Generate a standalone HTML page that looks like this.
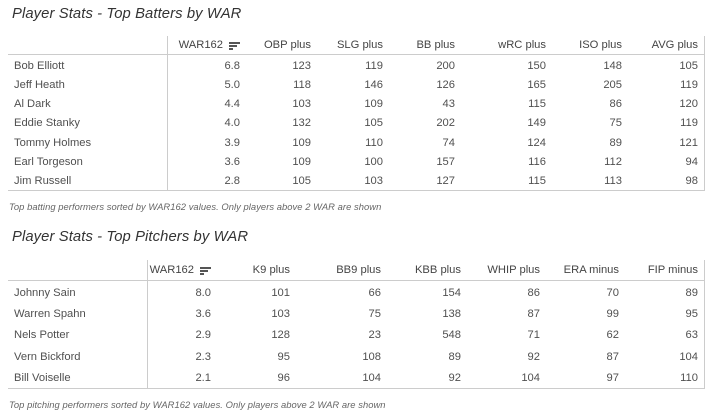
<!DOCTYPE html>
<html><head><style>
body{margin:0;width:710px;height:413px;background:#fff;font-family:"Liberation Sans",sans-serif;color:#555;position:relative;overflow:hidden}
.t{position:absolute;left:12px;font-size:14.8px;font-style:italic;color:#333;letter-spacing:0.1px}
.c{position:absolute;left:9px;font-size:9.4px;font-style:italic;color:#666;letter-spacing:0.05px}
.g{position:absolute;left:8px;width:696px;display:grid;border-right:1px solid #ccc;border-bottom:1px solid #ccc;font-size:11.2px}
.g div{padding-right:8px;padding-top:3px;text-align:right;line-height:1;display:flex;align-items:center;justify-content:flex-end;white-space:nowrap;color:#505050}
.g div.n{justify-content:flex-start;padding-left:6px;border-right:1px solid #ccc}
.g div.h{border-bottom:1px solid #ccc;color:#444;padding-top:1px}
.g div.hn{border-right:1px solid #ccc;border-bottom:1px solid #ccc}
.s{display:inline-block;margin-left:6px;width:11px;vertical-align:middle}
.s i{display:block;height:2px;background:#555;margin:1px 0}
</style></head><body>
<div class="t" style="top:6px">Player Stats - Top Batters by WAR</div>
<div class="g" style="top:36px;grid-template-columns:160px 80px 71px 72px 72px 91px 76px 74px;grid-template-rows:19px repeat(7,19.3px)">
<div class="hn"></div><div class="h">WAR162<span class="s"><i style="width:11px"></i><i style="width:8px"></i><i style="width:4px"></i></span></div><div class="h">OBP plus</div><div class="h">SLG plus</div><div class="h">BB plus</div><div class="h">wRC plus</div><div class="h">ISO plus</div><div class="h" style="padding-right:6px">AVG plus</div>
<div class="n">Bob Elliott</div><div>6.8</div><div>123</div><div>119</div><div>200</div><div>150</div><div>148</div><div style="padding-right:6px">105</div>
<div class="n">Jeff Heath</div><div>5.0</div><div>118</div><div>146</div><div>126</div><div>165</div><div>205</div><div style="padding-right:6px">119</div>
<div class="n">Al Dark</div><div>4.4</div><div>103</div><div>109</div><div>43</div><div>115</div><div>86</div><div style="padding-right:6px">120</div>
<div class="n">Eddie Stanky</div><div>4.0</div><div>132</div><div>105</div><div>202</div><div>149</div><div>75</div><div style="padding-right:6px">119</div>
<div class="n">Tommy Holmes</div><div>3.9</div><div>109</div><div>110</div><div>74</div><div>124</div><div>89</div><div style="padding-right:6px">121</div>
<div class="n">Earl Torgeson</div><div>3.6</div><div>109</div><div>100</div><div>157</div><div>116</div><div>112</div><div style="padding-right:6px">94</div>
<div class="n">Jim Russell</div><div>2.8</div><div>105</div><div>103</div><div>127</div><div>115</div><div>113</div><div style="padding-right:6px">98</div>
</div>
<div class="c" style="top:201px">Top batting performers sorted by WAR162 values. Only players above 2 WAR are shown</div>
<div class="t" style="top:229px">Player Stats - Top Pitchers by WAR</div>
<div class="g" style="top:260px;grid-template-columns:140px 71px 79px 91px 80px 79px 79px 77px;grid-template-rows:21px repeat(5,21.4px)">
<div class="hn"></div><div class="h">WAR162<span class="s"><i style="width:11px"></i><i style="width:8px"></i><i style="width:4px"></i></span></div><div class="h">K9 plus</div><div class="h">BB9 plus</div><div class="h">KBB plus</div><div class="h">WHIP plus</div><div class="h">ERA minus</div><div class="h" style="padding-right:6px">FIP minus</div>
<div class="n">Johnny Sain</div><div>8.0</div><div>101</div><div>66</div><div>154</div><div>86</div><div>70</div><div style="padding-right:6px">89</div>
<div class="n">Warren Spahn</div><div>3.6</div><div>103</div><div>75</div><div>138</div><div>87</div><div>99</div><div style="padding-right:6px">95</div>
<div class="n">Nels Potter</div><div>2.9</div><div>128</div><div>23</div><div>548</div><div>71</div><div>62</div><div style="padding-right:6px">63</div>
<div class="n">Vern Bickford</div><div>2.3</div><div>95</div><div>108</div><div>89</div><div>92</div><div>87</div><div style="padding-right:6px">104</div>
<div class="n">Bill Voiselle</div><div>2.1</div><div>96</div><div>104</div><div>92</div><div>104</div><div>97</div><div style="padding-right:6px">110</div>
</div>
<div class="c" style="top:399px">Top pitching performers sorted by WAR162 values. Only players above 2 WAR are shown</div>
</body></html>
